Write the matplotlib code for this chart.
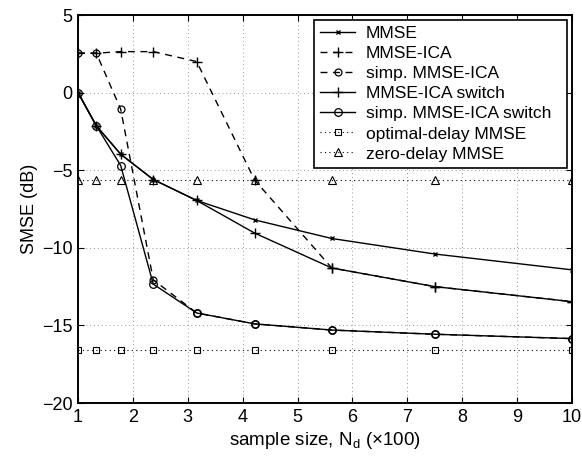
import matplotlib
matplotlib.use("Agg")
import matplotlib.pyplot as plt

plt.rcParams['font.family'] = ['Liberation Sans', 'DejaVu Sans']
plt.rcParams['mathtext.fontset'] = 'custom'
plt.rcParams['mathtext.rm'] = 'Liberation Sans'
plt.rcParams['mathtext.it'] = 'Liberation Sans'

# sample sizes (x100)
n_d = [1.0, 1.334, 1.778, 2.371, 3.162, 4.217, 5.623, 7.499, 10.0]

mmse = [0.0, -2.14, -3.97, -5.6, -6.95, -8.2, -9.4, -10.4, -11.42]
mmse_ica = [2.54, 2.54, 2.64, 2.64, 2.0, -5.63, -11.3, -12.5, -13.47]
simp_mmse_ica = [2.54, 2.54, -1.07, -12.06, -14.2, -14.9, -15.3, -15.57, -15.85]
mmse_ica_switch = [0.0, -2.14, -3.97, -5.6, -6.95, -9.05, -11.3, -12.5, -13.47]
simp_mmse_ica_switch = [0.0, -2.14, -4.7, -12.34, -14.2, -14.9, -15.3, -15.57, -15.85]
optimal_delay = [-16.6] * len(n_d)
zero_delay = [-5.63] * len(n_d)

xticks = [1, 2, 3, 4, 5, 6, 7, 8, 9, 10]
yticks = [-20, -15, -10, -5, 0, 5]

fig = plt.figure(figsize=(5.82, 4.62), dpi=100)
ax = fig.add_axes([78 / 582, 1 - 403 / 462, (572 - 78) / 582, (403 - 15) / 462])

dash = (0, (5, 4))
dots = (0, (1, 3))
lw = 1.0
ax.plot(n_d, mmse, color='k', lw=lw, ls='-', marker='x', ms=3.5, mew=1.0, label='MMSE')
ax.plot(n_d, mmse_ica, color='k', lw=lw, ls=dash, marker='+', ms=6.5, mew=1.0, label='MMSE-ICA')
ax.plot(n_d, simp_mmse_ica, color='k', lw=lw, ls=dash, marker='o', ms=5, mew=0.9,
        mfc='none', label='simp. MMSE-ICA')
ax.plot(n_d, mmse_ica_switch, color='k', lw=lw, ls='-', marker='+', ms=6.5, mew=1.0,
        label='MMSE-ICA switch')
ax.plot(n_d, simp_mmse_ica_switch, color='k', lw=lw, ls='-', marker='o', ms=5.5, mew=0.9,
        mfc='none', label='simp. MMSE-ICA switch  ')
ax.plot(n_d, optimal_delay, color='k', lw=0.8, ls=dots, marker='s', ms=4, mew=0.8,
        mfc='none', label='optimal-delay MMSE')
ax.plot(n_d, zero_delay, color='k', lw=0.8, ls=dots, marker='^', ms=5.5, mew=0.8,
        mfc='none', label='zero-delay MMSE')

ax.set_xlim(1, 10)
ax.set_ylim(-20, 5)
ax.set_xticks(xticks)
ax.set_yticks(yticks)
ax.tick_params(direction='in', top=True, right=True, labelsize=13, length=4, width=0.8, pad=4)
ax.grid(True, color='#999999', ls=dots, lw=0.7)
for s in ax.spines.values():
    s.set_linewidth(1.4)

ax.set_xlabel('sample size, N$_\\mathrm{d}$ (\u00d7100)', fontsize=13.5, labelpad=3)
ax.set_ylabel('SMSE (dB)', fontsize=13, labelpad=3)

leg = ax.legend(loc='upper right', fontsize=12.5, frameon=True, fancybox=False,
                edgecolor='k', handlelength=2.0, handletextpad=0.6, borderpad=0.35,
                labelspacing=0.28, borderaxespad=0.3, framealpha=1)
leg.get_frame().set_linewidth(1.2)

fig.savefig('out.png', dpi=100)
